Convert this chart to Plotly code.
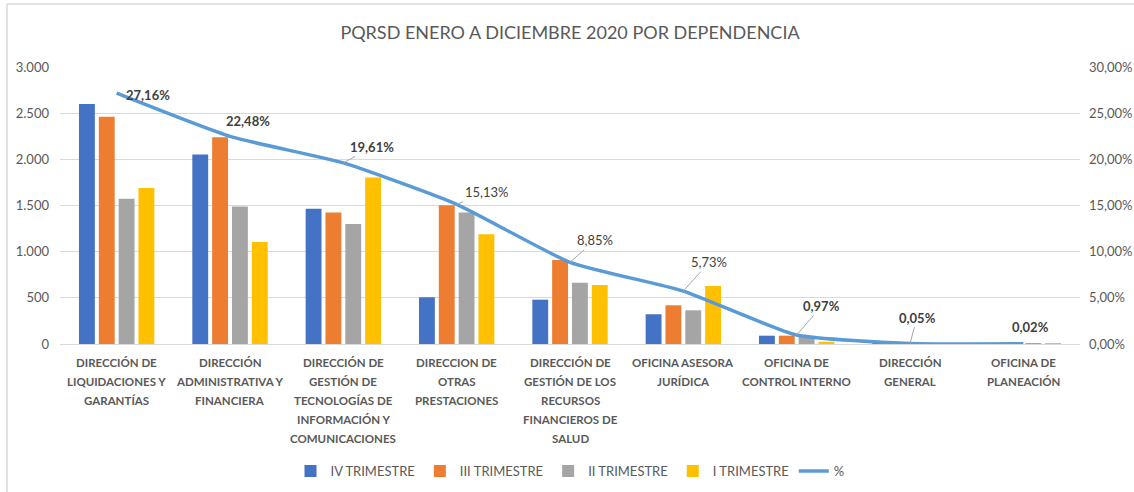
import plotly.graph_objects as go

categories = [
    "DIRECCIÓN DE<br>LIQUIDACIONES Y<br>GARANTÍAS",
    "DIRECCIÓN<br>ADMINISTRATIVA Y<br>FINANCIERA",
    "DIRECCIÓN DE<br>GESTIÓN DE<br>TECNOLOGÍAS DE<br>INFORMACIÓN Y<br>COMUNICACIONES",
    "DIRECCION DE<br>OTRAS<br>PRESTACIONES",
    "DIRECCIÓN DE<br>GESTIÓN DE LOS<br>RECURSOS<br>FINANCIEROS DE<br>SALUD",
    "OFICINA ASESORA<br>JURÍDICA",
    "OFICINA DE<br>CONTROL INTERNO",
    "DIRECCIÓN<br>GENERAL",
    "OFICINA DE<br>PLANEACIÓN",
]
iv_trim = [2600, 2051, 1466, 506, 480, 322, 90, 4, 2]
iii_trim = [2460, 2239, 1423, 1502, 910, 419, 90, 5, 2]
ii_trim = [1574, 1488, 1300, 1423, 664, 365, 88, 3, 1]
i_trim = [1690, 1105, 1802, 1188, 639, 628, 25, 3, 1]
pct = [27.16, 22.48, 19.61, 15.13, 8.85, 5.73, 0.97, 0.05, 0.02]

left_ticks = [0, 500, 1000, 1500, 2000, 2500, 3000]
left_text = ["0", "500", "1.000", "1.500", "2.000", "2.500", "3.000"]
right_ticks = [0, 5, 10, 15, 20, 25, 30]
right_text = ["0,00%", "5,00%", "10,00%", "15,00%", "20,00%", "25,00%", "30,00%"]

FONT = "Lato"
GREY = "#595959"
PLOT_TOP, PLOT_H = 67, 277

def ypaper(py):
    return (PLOT_TOP + PLOT_H - py) / PLOT_H

fig = go.Figure()
series = [
    ("IV TRIMESTRE", iv_trim, "#4472C4"),
    ("III TRIMESTRE", iii_trim, "#ED7D31"),
    ("II TRIMESTRE", ii_trim, "#A5A5A5"),
    ("I TRIMESTRE", i_trim, "#FFC000"),
]
for name, vals, col in series:
    fig.add_trace(go.Bar(x=categories, y=vals, name=name, marker_color=col,
                         marker_line_width=0))

fig.add_trace(go.Scatter(x=categories, y=pct, name="%", yaxis="y2", mode="lines",
                         line=dict(color="#5B9BD5", width=3.5, shape="spline", smoothing=0.5)))

# category labels, one line per annotation for Excel-like line spacing
for cat in categories:
    for i, line in enumerate(cat.split("<br>")):
        fig.add_annotation(x=cat, xref="x", y=ypaper(362 + 19 * i), yref="paper",
                           text="<b>" + line + "</b>", showarrow=False, yanchor="middle",
                           font=dict(family=FONT, size=11.5, color=GREY))

# data labels: (ax, ay, arrow, bold)
label_cfg = [
    (31, 2, False, True),
    (18, -15, False, True),
    (29, -16, True, True),
    (30, -12, True, False),
    (25, -22, True, False),
    (26, -29, True, False),
    (25, -29, True, True),
    (7, -26, True, True),
    (7, -17, False, True),
]
for cat, v, (ax, ay, arrow, bold) in zip(categories, pct, label_cfg):
    txt = f"{v:.2f}".replace(".", ",") + "%"
    if bold:
        txt = "<b>" + txt + "</b>"
    if arrow:
        fig.add_annotation(x=cat, y=v, xref="x", yref="y2", text=txt, showarrow=True,
                           arrowhead=0, arrowwidth=1, arrowcolor="#A6A6A6",
                           ax=ax, ay=ay, font=dict(family=FONT, size=13, color="#404040"))
    else:
        fig.add_annotation(x=cat, y=v, xref="x", yref="y2", text=txt, showarrow=False,
                           xshift=ax, yshift=-ay,
                           font=dict(family=FONT, size=13, color="#404040"))

# chart border (left & top)
fig.add_shape(type="line", xref="paper", yref="paper",
              x0=(7 - 60) / 1020, x1=(7 - 60) / 1020, y0=ypaper(4), y1=ypaper(492),
              line=dict(color="#D9D9D9", width=1.5))
fig.add_shape(type="line", xref="paper", yref="paper",
              x0=(7 - 60) / 1020, x1=(1134 - 60) / 1020, y0=ypaper(4), y1=ypaper(4),
              line=dict(color="#D9D9D9", width=1.5))

fig.update_layout(
    width=1134, height=492,
    margin=dict(l=60, r=54, t=67, b=148, autoexpand=False),
    paper_bgcolor="white", plot_bgcolor="white",
    barmode="group", bargap=0.3, bargroupgap=0.2,
    title=dict(text="PQRSD ENERO A DICIEMBRE 2020 POR DEPENDENCIA", x=0.5, xref="paper",
               y=1 - 33 / 492, yanchor="middle",
               font=dict(family=FONT, size=18, color=GREY)),
    font=dict(family=FONT, color=GREY),
    legend=dict(orientation="h", x=0.5, xanchor="center", y=ypaper(471), yanchor="middle",
                font=dict(family=FONT, size=13, color=GREY), traceorder="normal",
                itemwidth=30),
    xaxis=dict(showticklabels=False, showline=True,
               linecolor="#D9D9D9", linewidth=1, ticks="", automargin=False),
    yaxis=dict(range=[0, 3000], tickvals=left_ticks, ticktext=left_text,
               tickfont=dict(family=FONT, size=13, color=GREY), gridcolor="#D9D9D9",
               gridwidth=1, zeroline=False, showline=False, ticks="", ticklabelstandoff=10,
               automargin=False),
    yaxis2=dict(range=[0, 30], tickvals=right_ticks, ticktext=right_text, overlaying="y",
                side="right", showgrid=False, zeroline=False, showline=False,
                tickfont=dict(family=FONT, size=13, color=GREY), ticklabelstandoff=8,
                automargin=False),
)

fig.write_html("out.html")
